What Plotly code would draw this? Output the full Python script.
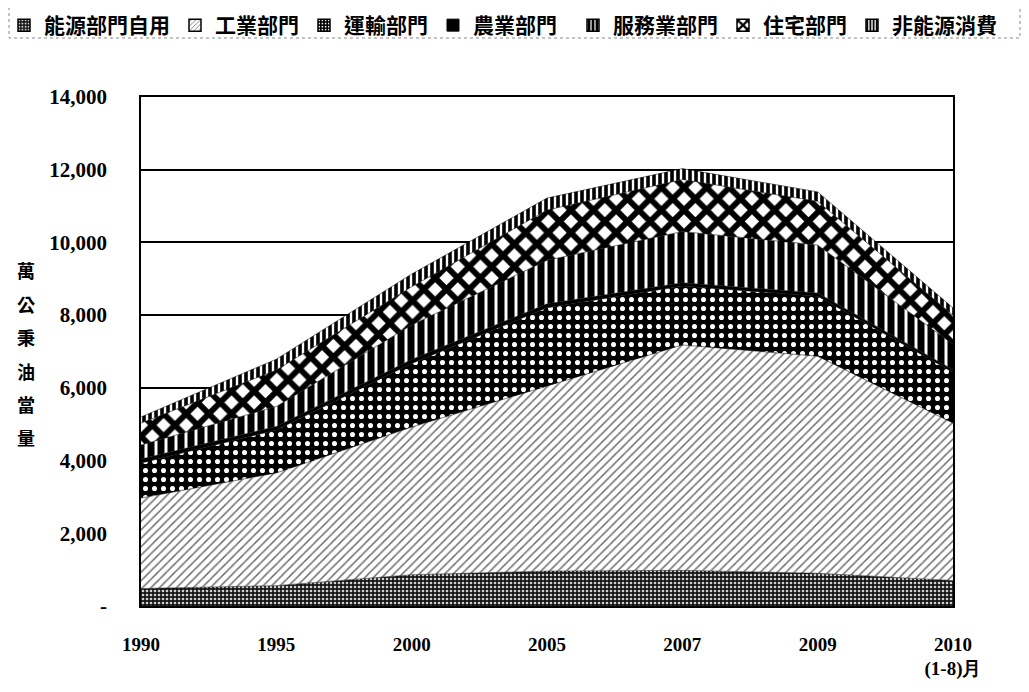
import plotly.graph_objects as go

categories = ["1990", "1995", "2000", "2005", "2007", "2009", "2010<br>(1-8)月"]
series_names = ["能源部門自用", "工業部門", "運輸部門", "農業部門", "服務業部門", "住宅部門", "非能源消費"]
energy_self = [480, 560, 860, 960, 980, 900, 700]
industry = [2490, 3100, 4060, 5090, 6200, 5970, 4330]
transport = [960, 1180, 1750, 2150, 1620, 1650, 1400]
agriculture = [110, 100, 110, 110, 90, 90, 70]
services = [390, 550, 950, 1200, 1410, 1320, 700]
residential = [600, 1000, 1050, 1380, 1430, 1200, 800]
non_energy = [170, 300, 350, 330, 300, 260, 200]
y_tick_vals = [0, 2000, 4000, 6000, 8000, 10000, 12000, 14000]
y_tick_text = ["-", "2,000", "4,000", "6,000", "8,000", "10,000", "12,000", "14,000"]
y_title_chars = ["萬", "公", "秉", "油", "當", "量"]

series_values = [energy_self, industry, transport, agriculture, services, residential, non_energy]
patterns = [
    dict(shape=".", bgcolor="#151515", fgcolor="#d0d0d0", size=4, solidity=0.35, fgopacity=1),
    dict(shape="/", bgcolor="#ffffff", fgcolor="#6e6e6e", size=6, solidity=0.25, fgopacity=1),
    dict(shape=".", bgcolor="#000000", fgcolor="#ffffff", size=9, solidity=0.25, fgopacity=1),
    None,
    dict(shape="|", bgcolor="#000000", fgcolor="#ffffff", size=10, solidity=0.3, fgopacity=1),
    dict(shape="x", bgcolor="#ffffff", fgcolor="#000000", size=16, solidity=0.6, fgopacity=1),
    dict(shape="|", bgcolor="#ffffff", fgcolor="#000000", size=6, solidity=0.6, fgopacity=1),
]
legend_ids = ["legend", "legend", "legend", "legend", "legend2", "legend2", "legend2"]

x_pos = list(range(len(categories)))

fig = go.Figure()
for name, vals, pat in zip(series_names, series_values, patterns):
    kw = dict(
        x=x_pos, y=vals, name=name, mode="lines", stackgroup="one",
        line=dict(width=0.5, color="#000000"), legendgroup=name, showlegend=False,
    )
    if pat is None:
        kw["fillcolor"] = "#000000"
    else:
        kw["fillcolor"] = pat["bgcolor"]
        kw["fillpattern"] = pat
    fig.add_trace(go.Scatter(**kw))

# legend swatches (square patterned icons)
for name, pat, lid in zip(series_names, patterns, legend_ids):
    if pat is None:
        marker = dict(color="#000000", line=dict(color="#000000", width=1))
    else:
        marker = dict(color=pat["bgcolor"], line=dict(color="#000000", width=1.5),
                      pattern=dict(shape=pat["shape"], fgcolor=pat["fgcolor"], bgcolor=pat["bgcolor"],
                                   size=max(4, pat["size"] // 2), solidity=pat["solidity"], fillmode="replace"))
    fig.add_trace(go.Bar(x=[None], y=[None], name=name, legendgroup=name, marker=marker,
                         showlegend=True, legend=lid))

OFF = 8
W, H = 1013, 676
L, T = 141 - OFF, 97 - OFF
R = W - (953 - OFF)
B = H - (606 - OFF)
pw, ph = W - L - R, H - T - B

def px(x):
    return (x - OFF - L) / pw

def py(y):
    return (H - B - (y - OFF)) / ph

for i, ch in enumerate(y_title_chars):
    fig.add_annotation(
        text=ch, xref="paper", yref="paper", x=px(26), y=py(270 + i * 33.5),
        showarrow=False, xanchor="center", yanchor="middle",
        font=dict(family="Noto Sans CJK TC", size=18, color="#000000", weight="bold"),
    )

fig.add_shape(
    type="rect", xref="paper", yref="paper",
    x0=px(9), x1=px(1020), y0=py(6), y1=py(38),
    line=dict(color="#888888", width=1, dash="dot"), fillcolor="rgba(0,0,0,0)",
    layer="below",
)

legend_font = dict(family="Noto Sans CJK TC", size=21, color="#000000", weight="bold")

fig.update_layout(
    width=W, height=H,
    margin=dict(l=L, r=R, t=T, b=B, autoexpand=False),
    paper_bgcolor="#ffffff", plot_bgcolor="#ffffff",
    showlegend=True,
    legend=dict(
        orientation="h", x=px(4), y=py(5), xanchor="left", yanchor="top",
        traceorder="normal", font=legend_font,
        itemwidth=30, bgcolor="rgba(0,0,0,0)",
    ),
    legend2=dict(
        orientation="h", x=px(573), y=py(5), xanchor="left", yanchor="top",
        traceorder="normal", font=legend_font,
        itemwidth=30, bgcolor="rgba(0,0,0,0)",
    ),
    xaxis=dict(
        range=[0, 6], tickvals=x_pos, ticktext=categories,
        showgrid=False, showline=True, linecolor="#000000", linewidth=1.5,
        mirror=True, ticks="", ticklabelstandoff=20,
        tickfont=dict(family="Liberation Serif", size=19, color="#000000", weight="bold"),
        zeroline=False,
    ),
    yaxis=dict(
        range=[0, 14000], tickvals=y_tick_vals, ticktext=y_tick_text,
        showgrid=True, gridcolor="#000000", gridwidth=1.5,
        showline=True, linecolor="#000000", linewidth=1.5, mirror=True,
        ticks="", ticklabelstandoff=28,
        tickfont=dict(family="Liberation Serif", size=21, color="#000000", weight="bold"),
        zeroline=False,
    ),
)

fig.write_html("out.html")
